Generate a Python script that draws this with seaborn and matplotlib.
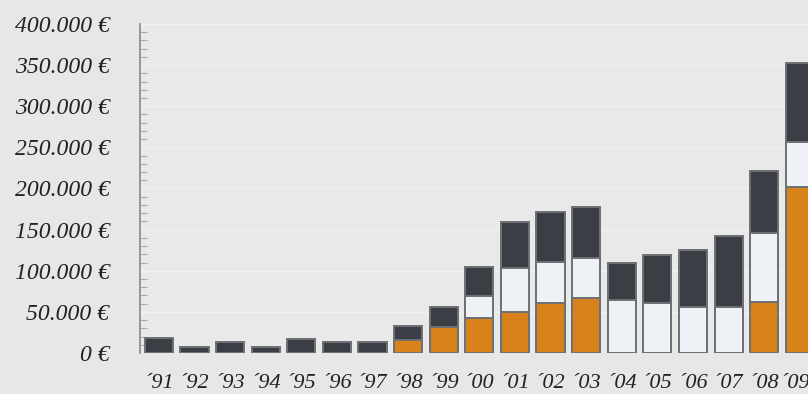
import numpy as np
import pandas as pd
import seaborn as sns
import matplotlib.pyplot as plt
import matplotlib.transforms as mtransforms
from matplotlib.ticker import MultipleLocator, FuncFormatter

# values (euro)
years = ["\u00b491", "\u00b492", "\u00b493", "\u00b494", "\u00b495", "\u00b496", "\u00b497",
         "\u00b498", "\u00b499", "\u00b400", "\u00b401", "\u00b402", "\u00b403", "\u00b404",
         "\u00b405", "\u00b406", "\u00b407", "\u00b408", "\u00b409"]
orange = [0, 0, 0, 0, 0, 0, 0, 16000, 32000, 43000, 50000, 61000, 67000, 0, 0, 0, 0, 62000, 202000]
white = [0, 0, 0, 0, 0, 0, 0, 0, 0, 26000, 53000, 50000, 49000, 64000, 61000, 56000, 56000, 84000, 55000]
dark = [18000, 7000, 13000, 7000, 17000, 13000, 13000, 17000, 24000, 35000, 56000, 60000, 62000,
        45000, 58000, 69000, 86000, 75000, 95000]

df = pd.DataFrame({"year": years, "orange": orange, "white": white, "dark": dark})
df["low"] = df["orange"]
df["mid"] = df["orange"] + df["white"]
df["top"] = df["mid"] + df["dark"]

sns.set_theme(style="white")
plt.rcParams["font.family"] = ["Liberation Serif", "DejaVu Serif"]

fig = plt.figure(figsize=(8.08, 3.94), dpi=100)
fig.patch.set_facecolor("#e7e7e7")
ax = fig.add_axes([140 / 808, 41 / 394, 1 - 140 / 808 + 0.03, (353 - 24) / 394])
ax.set_facecolor("#e9e9e9")

edge = "#6d7075"
sns.barplot(data=df, x="year", y="top", color="#3b3e45", saturation=1, width=0.79,
            edgecolor=edge, linewidth=1.4, ax=ax)
sns.barplot(data=df, x="year", y="mid", color="#eef2f7", saturation=1, width=0.79,
            edgecolor=edge, linewidth=1.4, ax=ax)
sns.barplot(data=df, x="year", y="low", color="#d8821c", saturation=1, width=0.79,
            edgecolor=edge, linewidth=1.4, ax=ax)

ax.set_xlim(-0.53, 18.23 + 0.03 * 808 / 35.6)
ax.set_ylim(0, 400000)
ax.yaxis.set_major_locator(MultipleLocator(50000))
ax.yaxis.set_minor_locator(MultipleLocator(10000))
ax.yaxis.set_major_formatter(FuncFormatter(lambda v, p: f"{int(v):,} \u20ac".replace(",", ".")))
ax.grid(axis="y", color="#f2f2f2", linewidth=1)
ax.set_axisbelow(True)

for s in ["top", "right", "bottom"]:
    ax.spines[s].set_visible(False)
ax.spines["left"].set_color("#8a8a8a")
ax.spines["left"].set_linewidth(1.2)

ax.tick_params(axis="y", which="major", direction="in", length=14, width=1.2, color="#8a8a8a",
               pad=22, labelsize=17, labelcolor="#222222")
ax.tick_params(axis="y", which="minor", direction="in", length=5, width=0.8, color="#aaaaaa", left=True)
ax.tick_params(axis="x", length=0, pad=15, labelsize=16, labelcolor="#222222")
for lab in ax.get_yticklabels() + ax.get_xticklabels():
    lab.set_fontstyle("italic")

# last year label sits right at the edge; nudge it so it stays in frame
last = ax.get_xticklabels()[-1]
last.set_transform(last.get_transform() + mtransforms.ScaledTranslation(-5 / 100, 0, fig.dpi_scale_trans))

ax.set_xlabel("")
ax.set_ylabel("")

fig.savefig("out.png", dpi=100, facecolor=fig.get_facecolor())
